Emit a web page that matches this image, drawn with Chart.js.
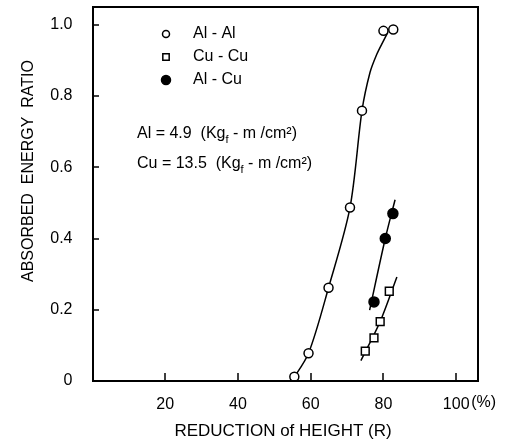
<!DOCTYPE html>
<html>
<head>
<meta charset="utf-8">
<script src="https://cdn.jsdelivr.net/npm/chart.js@4.4.1/dist/chart.umd.min.js"></script>
<style>
  html, body { margin: 0; padding: 0; background: #fff; }
  #wrap { width: 506px; height: 441px; position: relative; }
</style>
</head>
<body>
<div id="wrap"><canvas id="c" width="506" height="441"></canvas></div>
<script>
// ---- data ----
const alAlX = [55.5, 59.4, 64.9, 70.8, 74.1, 80.0, 82.7];
const alAlY = [0.012, 0.078, 0.262, 0.487, 0.759, 0.983, 0.987];
const cuCuX = [75.0, 77.4, 79.1, 81.6];
const cuCuY = [0.084, 0.121, 0.167, 0.252];
const alCuX = [77.4, 80.5, 82.6];
const alCuY = [0.222, 0.40, 0.47];
// fitted curves as drawn in the figure
const alAlCurveX = [54.8, 59.4, 64.9, 70.8, 74.1, 76.3, 78.2, 80.0, 81.2];
const alAlCurveY = [0.0, 0.078, 0.262, 0.487, 0.759, 0.866, 0.918, 0.955, 0.979];
const cuCuCurveX = [73.8, 79.1, 83.7];
const cuCuCurveY = [0.057, 0.167, 0.292];
const alCuCurveX = [76.2, 80.5, 83.2];
const alCuCurveY = [0.199, 0.40, 0.509];
// axes
const xTicks = [20, 40, 60, 80, 100];
const yTicks = [0, 0.2, 0.4, 0.6, 0.8, 1.0];
const legendLabels = ['Al - Al', 'Cu - Cu', 'Al - Cu'];
const xTitle = 'REDUCTION of HEIGHT (R)';
const yTitle = 'ABSORBED  ENERGY  RATIO';
const noteLines = [
  ['Al = 4.9  (Kg', 'f', ' - m /cm²)'],
  ['Cu = 13.5  (Kg', 'f', ' - m /cm²)']
];

const zip = (xs, ys) => xs.map((x, i) => ({x, y: ys[i]}));
const FONT = '"Liberation Sans", Arial, sans-serif';

const lineDs = (xs, ys) => ({
  data: zip(xs, ys), showLine: true, pointRadius: 0, borderColor: '#000',
  borderWidth: 1.5, tension: 0.3, fill: false, order: 2
});
const ptDs = (xs, ys, style, filled, r) => ({
  data: zip(xs, ys), showLine: false, pointStyle: style, pointRadius: r,
  pointBackgroundColor: filled ? '#000' : '#fff', pointBorderColor: '#000',
  pointBorderWidth: 1.5, order: 1
});

const decor = {
  id: 'decor',
  afterDraw(chart) {
    const ctx = chart.ctx;
    const a = chart.chartArea;
    const xs = chart.scales.x, ys = chart.scales.y;
    const L = Math.round(a.left), R = Math.round(a.right), T = Math.round(a.top), B = Math.round(a.bottom);
    ctx.save();
    ctx.setLineDash([]);
    ctx.globalAlpha = 1;
    ctx.fillStyle = '#000';
    // frame as thin filled bars
    ctx.fillRect(L - 1, T - 1, R - L + 2, 2);
    ctx.fillRect(L - 1, B - 1, R - L + 2, 2);
    ctx.fillRect(L - 1, T - 1, 2, B - T + 2);
    ctx.fillRect(R - 1, T - 1, 2, B - T + 2);
    // inward tick marks
    xTicks.forEach(v => {
      const px = Math.round(xs.getPixelForValue(v));
      ctx.fillRect(px - 0.75, B - 8, 1.5, 8);
    });
    yTicks.forEach(v => {
      const py = Math.round(ys.getPixelForValue(v));
      ctx.fillRect(L, py - 0.75, 6, 1.5);
    });
    // (%) after 100
    ctx.font = '16px ' + FONT; ctx.textBaseline = 'middle'; ctx.textAlign = 'left';
    ctx.fillText('(%)', xs.getPixelForValue(100) + 15, 403);
    // axis titles
    ctx.font = '17px ' + FONT; ctx.textAlign = 'center';
    ctx.fillText(xTitle, 283, 431);
    ctx.save();
    ctx.translate(29, 171); ctx.rotate(-Math.PI / 2);
    ctx.font = '16px ' + FONT;
    ctx.fillText(yTitle, 0, 0);
    ctx.restore();
    // legend
    const legY = [34, 57, 80];
    const styles = [['circle', false, 3.5], ['rect', false, 4.5], ['circle', true, 4.5]];
    ctx.font = '16px ' + FONT; ctx.textAlign = 'left';
    legendLabels.forEach((t, i) => {
      const [st, filled, r] = styles[i];
      ctx.fillStyle = filled ? '#000' : '#fff';
      ctx.strokeStyle = '#000'; ctx.lineWidth = 1.5;
      Chart.helpers.drawPoint(ctx, {pointStyle: st, radius: r, borderWidth: 1.5}, 166, legY[i]);
      ctx.fillStyle = '#000';
      ctx.fillText(t, 193, legY[i]);
    });
    // notes
    const noteY = [134, 164];
    noteLines.forEach((parts, i) => {
      let x = 137;
      ctx.font = '16px ' + FONT; ctx.textBaseline = 'middle';
      ctx.fillText(parts[0], x, noteY[i]); x += ctx.measureText(parts[0]).width;
      ctx.font = '11px ' + FONT;
      ctx.fillText(parts[1], x, noteY[i] + 6); x += ctx.measureText(parts[1]).width;
      ctx.font = '16px ' + FONT;
      ctx.fillText(parts[2], x, noteY[i]);
    });
    ctx.restore();
  }
};

new Chart(document.getElementById('c'), {
  type: 'scatter',
  data: {
    datasets: [
      lineDs(alAlCurveX, alAlCurveY),
      lineDs(cuCuCurveX, cuCuCurveY),
      lineDs(alCuCurveX, alCuCurveY),
      ptDs(alAlX, alAlY, 'circle', false, 4.5),
      ptDs(cuCuX, cuCuY, 'rect', false, 5.5),
      ptDs(alCuX, alCuY, 'circle', true, 5)
    ]
  },
  options: {
    responsive: false, animation: false,
    layout: { padding: { left: 0, top: 7, right: 28, bottom: 0 } },
    plugins: { legend: { display: false }, tooltip: { enabled: false } },
    scales: {
      x: {
        type: 'linear', min: 0, max: 106,
        afterBuildTicks: s => { s.ticks = xTicks.map(v => ({value: v})); },
        afterFit: s => { s.height = 60; s.paddingLeft = 0; s.paddingRight = 0; },
        grid: { display: false, drawTicks: false },
        border: { display: false },
        ticks: { color: '#000', padding: 14, font: { size: 16, family: FONT }, maxRotation: 0,
                 callback: v => String(v) }
      },
      y: {
        type: 'linear', min: 0, max: 1.05,
        afterBuildTicks: s => { s.ticks = yTicks.map(v => ({value: v})); },
        afterFit: s => { s.width = 92.5; s.paddingTop = 0; s.paddingBottom = 0; },
        grid: { display: false, drawTicks: false },
        border: { display: false },
        ticks: { color: '#000', padding: 20, font: { size: 16, family: FONT },
                 callback: v => v === 0 ? '0' : v.toFixed(1) }
      }
    }
  },
  plugins: [decor]
});
</script>
</body>
</html>
